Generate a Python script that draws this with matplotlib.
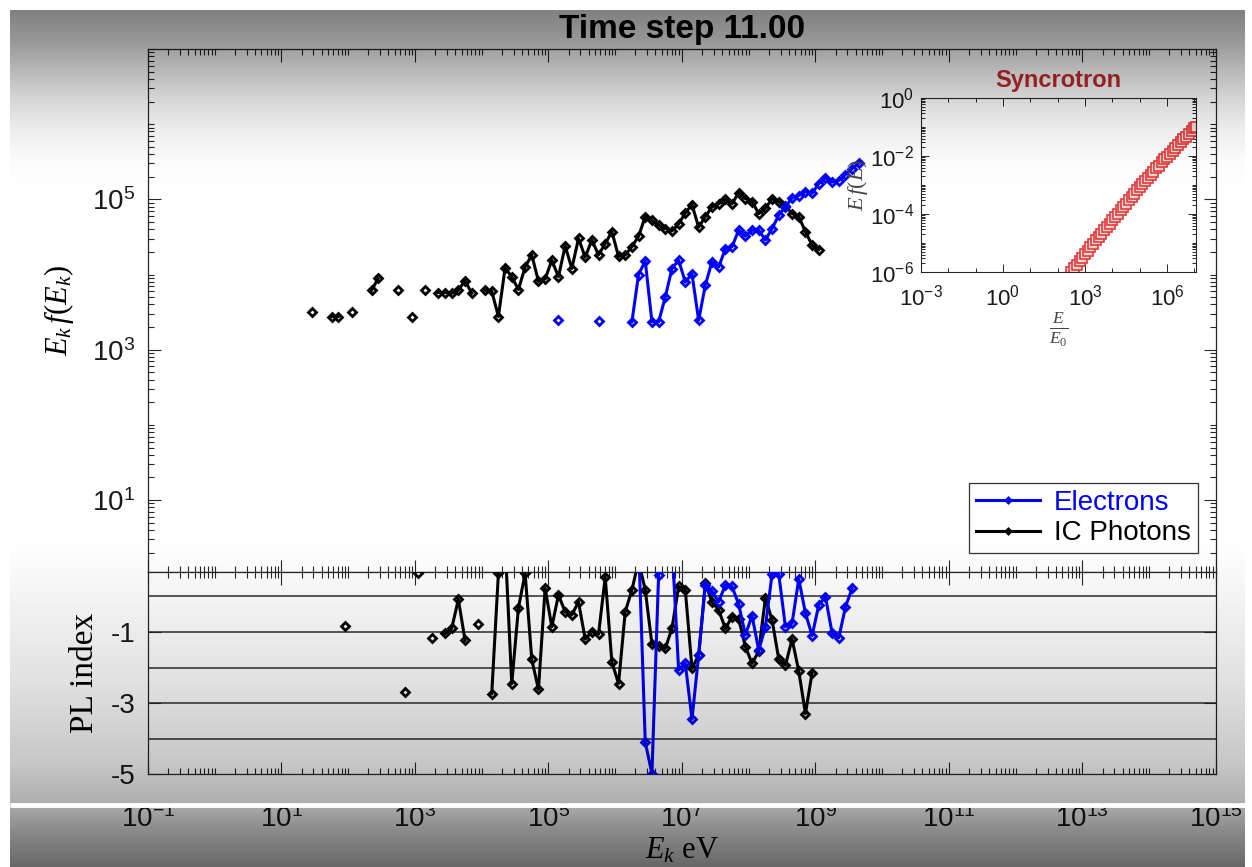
import numpy as np
import matplotlib
matplotlib.use('Agg')
import matplotlib.pyplot as plt
from matplotlib.ticker import FixedLocator, LogLocator, FuncFormatter, NullFormatter

plt.rcParams['font.family'] = 'Liberation Sans'
plt.rcParams['mathtext.fontset'] = 'custom'
plt.rcParams['mathtext.rm'] = 'Liberation Serif'
plt.rcParams['mathtext.it'] = 'Liberation Serif:italic'
plt.rcParams['mathtext.sf'] = 'Liberation Sans'
plt.rcParams['mathtext.bf'] = 'Liberation Serif:bold'
plt.rcParams['axes.unicode_minus'] = False

nan = np.nan

# ----------------------------------------------------------------
# Data (log10 values)
# ----------------------------------------------------------------
# IC photons spectrum, E_k f(E_k)
ic_lx = [1.45, 1.55, 1.65, 1.75, 1.85, 1.95, 2.05, 2.15, 2.25, 2.35, 2.45, 2.55,
         2.65, 2.75, 2.85, 2.95, 3.05, 3.15, 3.25, 3.35, 3.45, 3.55, 3.65, 3.75,
         3.85, 3.95, 4.05, 4.15, 4.25, 4.35, 4.45, 4.55, 4.65, 4.75, 4.85, 4.95,
         5.05, 5.15, 5.25, 5.35, 5.45, 5.55, 5.65, 5.75, 5.85, 5.95, 6.05, 6.15,
         6.25, 6.35, 6.45, 6.55, 6.65, 6.75, 6.85, 6.95, 7.05, 7.15, 7.25, 7.35,
         7.45, 7.55, 7.65, 7.75, 7.85, 7.95, 8.05, 8.15, 8.25, 8.35, 8.45, 8.55,
         8.65, 8.75, 8.85, 8.95, 9.05]
ic_ly = [3.50, nan, nan, 3.44, 3.44, nan, 3.50, nan, nan, 3.79, 3.95, nan,
         nan, 3.79, nan, 3.44, nan, 3.79, nan, 3.76, 3.76, 3.75, 3.79, 3.92,
         3.75, nan, 3.79, 3.78, 3.44, 4.09, 3.97, 3.80, 4.10, 4.26, 3.91, 3.94,
         4.19, 3.97, 4.38, 4.08, 4.48, 4.23, 4.46, 4.26, 4.41, 4.57, 4.24, 4.26,
         4.37, 4.51, 4.77, 4.72, 4.66, 4.61, 4.58, 4.67, 4.82, 4.93, 4.63, 4.77,
         4.90, 4.94, 5.00, 4.94, 5.09, 5.01, 4.97, 4.81, 4.88, 5.01, 4.97, 4.91,
         4.81, 4.77, 4.57, 4.39, 4.33]

# Electron spectrum, E_k f(E_k)
el_lx = [5.15, 5.25, 5.35, 5.45, 5.55, 5.65, 5.75, 5.85, 5.95, 6.05, 6.15, 6.25,
         6.35, 6.45, 6.55, 6.65, 6.75, 6.85, 6.95, 7.05, 7.15, 7.25, 7.35, 7.45,
         7.55, 7.65, 7.75, 7.85, 7.95, 8.05, 8.15, 8.25, 8.35, 8.45, 8.55, 8.65,
         8.75, 8.85, 8.95, 9.05, 9.15, 9.25, 9.35, 9.45, 9.55, 9.65]
el_ly = [3.40, nan, nan, nan, nan, nan, 3.38, nan, nan, nan, nan, 3.37,
         4.00, 4.18, 3.37, 3.37, 3.70, 4.08, 4.19, 3.90, 4.01, 3.39, 3.86, 4.17,
         4.10, 4.34, 4.37, 4.59, 4.51, 4.59, 4.59, 4.46, 4.61, 4.79, 4.90, 5.02,
         5.05, 5.10, 5.08, 5.21, 5.29, 5.23, 5.25, 5.33, 5.41, 5.48]

# PL index, IC photons
ic_pl_lx = [1.95, 2.05, 2.15, 2.25, 2.35, 2.45, 2.55, 2.65, 2.75, 2.85, 2.95, 3.05,
            3.15, 3.25, 3.35, 3.45, 3.55, 3.65, 3.75, 3.85, 3.95, 4.05, 4.15, 4.25,
            4.35, 4.45, 4.55, 4.65, 4.75, 4.85, 4.95, 5.05, 5.15, 5.25, 5.35, 5.45,
            5.55, 5.65, 5.75, 5.85, 5.95, 6.05, 6.15, 6.25, 6.35, 6.45, 6.55, 6.65,
            6.75, 6.85, 6.95, 7.05, 7.15, 7.25, 7.35, 7.45, 7.55, 7.65, 7.75, 7.85,
            7.95, 8.05, 8.15, 8.25, 8.35, 8.45, 8.55, 8.65, 8.75, 8.85, 8.95]
ic_pl = [-0.83, nan, nan, nan, nan, nan, nan, nan, nan, -2.68, nan, 0.65,
         nan, -1.16, nan, -1.04, -0.90, -0.08, -1.23, nan, -0.78, nan, -2.73, 0.65,
         1.5, -2.45, -0.32, 0.65, -1.77, -2.61, 0.23, -0.85, 0.04, -0.43, -0.52, -0.15,
         -1.20, -0.99, -1.06, 0.54, -1.84, -2.45, -0.43, 0.18, 1.0, 0.18, -1.34, -1.39,
         -1.46, -0.90, 0.28, 0.18, -2.02, -1.65, 0.37, -0.15, -0.38, -0.90, -0.57, -0.63,
         -1.41, -1.88, -1.54, -0.05, -0.66, -1.76, -1.93, -1.20, -2.10, -3.29, -2.14]

# PL index, electrons
el_pl_lx = [6.35, 6.45, 6.55, 6.65, 6.75, 6.85, 6.95, 7.05, 7.15, 7.25, 7.35, 7.45,
            7.55, 7.65, 7.75, 7.85, 7.95, 8.05, 8.15, 8.25, 8.35, 8.45, 8.55, 8.65,
            8.75, 8.85, 8.95, 9.05, 9.15, 9.25, 9.35, 9.45, 9.55]
el_pl = [1.5, -4.09, -4.98, 0.61, 1.5, 1.5, -2.07, -1.88, -3.45, -1.65, 0.32, 0.14,
         -0.15, 0.32, 0.28, -0.22, -1.08, -0.54, -1.51, -0.85, 0.63, 0.63, -0.85, -0.75,
         0.49, -0.47, -1.10, -0.24, -0.01, -1.04, -1.16, -0.29, 0.23]

# Synchrotron inset, E f(E) vs E/E0
sync_lx = [2.5, 2.6, 2.7, 2.8, 2.9, 3.0, 3.1, 3.2, 3.3, 3.4, 3.5, 3.6, 3.7, 3.8,
           3.9, 4.0, 4.1, 4.2, 4.3, 4.4, 4.5, 4.6, 4.7, 4.8, 4.9, 5.0, 5.1, 5.2,
           5.3, 5.4, 5.5, 5.6, 5.7, 5.8, 5.9, 6.0, 6.1, 6.2, 6.3, 6.4, 6.5, 6.6,
           6.7, 6.8, 6.9, 7.0, 7.05]
sync_ly = [-6.00, -5.87, -5.75, -5.63, -5.51, -5.39, -5.27, -5.15, -5.03, -4.91,
           -4.79, -4.68, -4.56, -4.45, -4.33, -4.22, -4.10, -3.99, -3.87, -3.76,
           -3.64, -3.53, -3.42, -3.30, -3.19, -3.08, -2.97, -2.86, -2.75, -2.64,
           -2.54, -2.43, -2.33, -2.22, -2.12, -2.02, -1.92, -1.82, -1.72, -1.62,
           -1.52, -1.42, -1.33, -1.23, -1.14, -1.05, -1.00]

pl_lines = [0, -1, -2, -3, -4]


def p10(v):
    return 10.0 ** np.asarray(v, dtype=float)


def sci_fmt(v, pos):
    return r'$\mathsf{10^{%d}}$' % int(round(np.log10(v)))


fig = plt.figure(figsize=(12.52, 8.67), dpi=100)
fig.patch.set_facecolor('white')

ax = fig.add_axes([0.1182, 0.3408, 0.8530, 0.6027])
axl = fig.add_axes([0.1182, 0.1067, 0.8530, 0.2341])
axi = fig.add_axes([0.7356, 0.6863, 0.2197, 0.2007], zorder=5)

mk = dict(marker='D', ms=3.6, mfc='none', mew=2.0, lw=2.2)

# ---- main spectrum panel ----
ax.plot(p10(el_lx), p10(el_ly), color='#0000ff', label='Electrons', zorder=4, **mk)
ax.plot(p10(ic_lx), p10(ic_ly), color='black', label='IC Photons', zorder=3, **mk)

# ---- PL index panel ----
for yv in pl_lines:
    axl.axhline(yv, color='#4d4d4d', lw=1.3, zorder=1)
axl.plot(p10(ic_pl_lx), ic_pl, color='black', zorder=3, **mk)
axl.plot(p10(el_pl_lx), el_pl, color='#0000ff', zorder=4, **mk)

for a in (ax, axl):
    a.set_xscale('log')
    a.set_xlim(1e-1, 1e15)
    a.xaxis.set_major_locator(FixedLocator(p10(np.arange(-1, 16, 2))))
    a.xaxis.set_minor_locator(LogLocator(base=10, subs=np.arange(1, 10), numticks=200))
    a.xaxis.set_minor_formatter(NullFormatter())
    a.tick_params(which='both', direction='in', top=True, right=True,
                  colors='#262626', labelcolor='#1a1a1a', labelsize=20, width=0.8)
    a.tick_params(which='major', length=9)
    a.tick_params(which='minor', length=4.5)
    for s in a.spines.values():
        s.set_color('#262626')
        s.set_linewidth(0.9)

ax.set_yscale('log')
ax.set_ylim(1.12, 1e7)
ax.yaxis.set_major_locator(FixedLocator([1e1, 1e3, 1e5]))
ax.yaxis.set_minor_locator(LogLocator(base=10, subs=np.arange(1, 10), numticks=200))
ax.yaxis.set_major_formatter(FuncFormatter(sci_fmt))
ax.yaxis.set_minor_formatter(NullFormatter())
ax.tick_params(axis='x', labelbottom=False)
ax.tick_params(axis='y', pad=9)
ax.set_ylabel(r'$E_k\,f(E_k)$', fontsize=22, labelpad=12)
ax.set_title('Time step 11.00', fontsize=24, fontweight='bold', pad=8)

leg = ax.legend(loc='lower right', bbox_to_anchor=(0.983, 0.035), borderaxespad=0,
                fontsize=20, fancybox=False, edgecolor='#333333', framealpha=1,
                handlelength=2.3, handletextpad=0.5, labelspacing=0.15,
                borderpad=0.25, markerscale=0.7, numpoints=1)
leg.get_frame().set_linewidth(0.9)
leg.get_texts()[0].set_color('#0000ff')
leg.get_texts()[1].set_color('black')

axl.set_ylim(-5, 0.7)
axl.yaxis.set_major_locator(FixedLocator([-5, -3, -1]))
axl.xaxis.set_major_formatter(FuncFormatter(sci_fmt))
axl.tick_params(axis='x', pad=22)
axl.tick_params(axis='y', pad=9)
axl.set_ylabel('PL index', fontsize=24, family='Liberation Serif', labelpad=8)
axl.set_xlabel(r'$E_k$ eV', fontsize=22, family='Liberation Serif', labelpad=2)

# ---- synchrotron inset ----
axi.plot(p10(sync_lx), p10(sync_ly), 's', ms=6.5, mfc='#ffd6d6', mec='#e23a3a', mew=1.2,
         ls='none', clip_on=True)
axi.set_xscale('log')
axi.set_yscale('log')
axi.set_xlim(1e-3, 10 ** 7.06)
axi.set_ylim(1e-6, 1)
axi.xaxis.set_major_locator(FixedLocator([1e-3, 1e0, 1e3, 1e6]))
axi.xaxis.set_minor_locator(LogLocator(base=10, subs=[1.0], numticks=50))
axi.yaxis.set_major_locator(FixedLocator([1e-6, 1e-4, 1e-2, 1e0]))
axi.yaxis.set_minor_locator(LogLocator(base=10, subs=np.arange(1, 10), numticks=50))
for axis in (axi.xaxis, axi.yaxis):
    axis.set_major_formatter(FuncFormatter(sci_fmt))
    axis.set_minor_formatter(NullFormatter())
axi.tick_params(which='both', direction='in', top=True, right=True,
                colors='#262626', labelcolor='#1a1a1a', labelsize=16, width=0.7)
axi.tick_params(which='major', length=6)
axi.tick_params(which='minor', length=3)
axi.tick_params(axis='x', pad=9)
axi.tick_params(axis='y', pad=5)
for s in axi.spines.values():
    s.set_color('#262626')
    s.set_linewidth(0.8)
axi.set_title('Syncrotron', color='#c42a2a', fontsize=17, fontweight='bold', pad=8)
axi.set_ylabel(r'$E\,f(E)$', fontsize=16, color='#444444', labelpad=0)
axi.set_xlabel(r'$\frac{E}{E_0}$', fontsize=18, color='#444444', labelpad=0)

# ---- video-frame shading and white line ----
ov = fig.add_axes([0, 0, 1, 1], zorder=50)
rows = np.arange(10, 867)
shade_y = [10, 40, 70, 100, 130, 160, 190, 540, 600, 680, 760, 800, 830, 867]
shade_a = [0.50, 0.41, 0.28, 0.16, 0.07, 0.02, 0.0, 0.0, 0.05, 0.12, 0.22, 0.31, 0.46, 0.60]
img = np.zeros((len(rows), 1, 4))
img[:, 0, 3] = np.interp(rows, shade_y, shade_a)
ov.imshow(img, extent=(10, 1245, 867, 10), aspect='auto', interpolation='bilinear')
ov.plot([10, 1245], [805, 805], color='white', lw=3.5, solid_capstyle='butt')
ov.set_xlim(0, 1252)
ov.set_ylim(867, 0)
ov.axis('off')

fig.savefig('out.png', dpi=100)
